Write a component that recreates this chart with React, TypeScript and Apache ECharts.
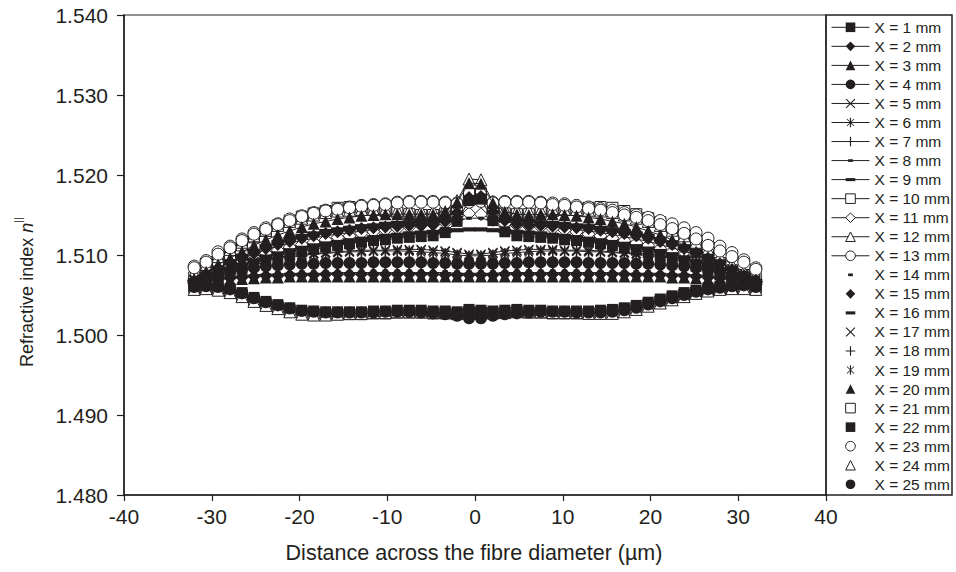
import React, { useEffect, useRef } from "react";
import * as echarts from "echarts";

// Position across the fibre (µm), shared by every profile
const distanceUm = [
  -32.0, -30.64, -29.28, -27.91, -26.55, -25.19, -23.83, -22.47, -21.11, -19.74, -18.38, -17.02,
  -15.66, -14.3, -12.94, -11.57, -10.21, -8.85, -7.49, -6.13, -4.77, -3.4, -2.04, -0.68,
  0.68, 2.04, 3.4, 4.77, 6.13, 7.49, 8.85, 10.21, 11.57, 12.94, 14.3, 15.66,
  17.02, 18.38, 19.74, 21.11, 22.47, 23.83, 25.19, 26.55, 27.91, 29.28, 30.64, 32.0,
];

// Refractive index profiles n|| at each drawing position X
const nX1 = [
  1.5062, 1.5067, 1.5072, 1.5077, 1.5082, 1.5087, 1.5092, 1.5096, 1.51, 1.5104, 1.5107, 1.511,
  1.5112, 1.5114, 1.5116, 1.5118, 1.5119, 1.5121, 1.5122, 1.5123, 1.5124, 1.5128, 1.5142, 1.5168,
  1.517, 1.5143, 1.5129, 1.5124, 1.5123, 1.5122, 1.5121, 1.5119, 1.5118, 1.5116, 1.5114, 1.5112,
  1.5109, 1.5106, 1.5103, 1.5099, 1.5095, 1.5091, 1.5086, 1.5081, 1.5076, 1.5071, 1.5066, 1.5062,
];
const nX2 = [
  1.5064, 1.5067, 1.5069, 1.5071, 1.5072, 1.5073, 1.5074, 1.5074, 1.5075, 1.5075, 1.5075, 1.5076,
  1.5076, 1.5076, 1.5076, 1.5076, 1.5076, 1.5076, 1.5076, 1.5076, 1.5076, 1.5075, 1.5075, 1.5075,
  1.5075, 1.5075, 1.5076, 1.5076, 1.5076, 1.5076, 1.5076, 1.5076, 1.5076, 1.5076, 1.5076, 1.5076,
  1.5076, 1.5075, 1.5075, 1.5075, 1.5074, 1.5074, 1.5073, 1.5072, 1.5071, 1.5069, 1.5067, 1.5064,
];
const nX3 = [
  1.507, 1.5079, 1.5088, 1.5096, 1.5104, 1.5112, 1.5119, 1.5125, 1.513, 1.5135, 1.5139, 1.5142,
  1.5145, 1.5147, 1.5149, 1.515, 1.5151, 1.5151, 1.5151, 1.5151, 1.5151, 1.5155, 1.5166, 1.519,
  1.5189, 1.5165, 1.5154, 1.5151, 1.515, 1.5151, 1.5151, 1.515, 1.5149, 1.5147, 1.5145, 1.5142,
  1.5139, 1.5135, 1.513, 1.5125, 1.5119, 1.5112, 1.5104, 1.5096, 1.5088, 1.5079, 1.5071, 1.5069,
];
const nX4 = [
  1.5066, 1.5071, 1.5075, 1.5079, 1.5082, 1.5084, 1.5086, 1.5087, 1.5088, 1.5089, 1.5089, 1.509,
  1.509, 1.509, 1.509, 1.5091, 1.5091, 1.5091, 1.5091, 1.5091, 1.509, 1.509, 1.5089, 1.5089,
  1.5089, 1.5089, 1.509, 1.509, 1.5091, 1.5091, 1.5091, 1.5091, 1.5091, 1.509, 1.509, 1.509,
  1.509, 1.5089, 1.5089, 1.5088, 1.5087, 1.5086, 1.5084, 1.5082, 1.5079, 1.5075, 1.5071, 1.5066,
];
const nX5 = [
  1.507, 1.5076, 1.5081, 1.5085, 1.5089, 1.5092, 1.5095, 1.5097, 1.5099, 1.5101, 1.5102, 1.5103,
  1.5104, 1.5105, 1.5106, 1.5106, 1.5106, 1.5107, 1.5107, 1.5107, 1.5106, 1.5105, 1.5103, 1.5101,
  1.5101, 1.5103, 1.5105, 1.5106, 1.5107, 1.5107, 1.5107, 1.5106, 1.5106, 1.5106, 1.5105, 1.5104,
  1.5103, 1.5102, 1.5101, 1.5099, 1.5097, 1.5095, 1.5092, 1.5089, 1.5085, 1.5081, 1.5076, 1.507,
];
const nX6 = [
  1.5069, 1.5075, 1.508, 1.5084, 1.5088, 1.5091, 1.5094, 1.5096, 1.5098, 1.5099, 1.5101, 1.5102,
  1.5103, 1.5104, 1.5104, 1.5105, 1.5105, 1.5105, 1.5105, 1.5104, 1.5103, 1.5102, 1.51, 1.5099,
  1.5099, 1.51, 1.5102, 1.5103, 1.5104, 1.5105, 1.5105, 1.5105, 1.5105, 1.5104, 1.5104, 1.5103,
  1.5102, 1.5101, 1.5099, 1.5098, 1.5096, 1.5094, 1.5091, 1.5088, 1.5084, 1.508, 1.5075, 1.5069,
];
const nX7 = [
  1.5066, 1.5069, 1.5071, 1.5073, 1.5074, 1.5075, 1.5076, 1.5076, 1.5077, 1.5077, 1.5077, 1.5077,
  1.5078, 1.5078, 1.5078, 1.5078, 1.5078, 1.5078, 1.5078, 1.5078, 1.5078, 1.5078, 1.5077, 1.5077,
  1.5077, 1.5077, 1.5078, 1.5078, 1.5078, 1.5078, 1.5078, 1.5078, 1.5078, 1.5078, 1.5078, 1.5078,
  1.5077, 1.5077, 1.5077, 1.5077, 1.5076, 1.5076, 1.5075, 1.5074, 1.5073, 1.5071, 1.5069, 1.5066,
];
const nX8 = [
  1.5072, 1.5078, 1.5085, 1.5091, 1.5097, 1.5102, 1.5107, 1.5111, 1.5115, 1.5118, 1.5121, 1.5124,
  1.5126, 1.5128, 1.513, 1.5132, 1.5134, 1.5136, 1.5137, 1.5139, 1.514, 1.5141, 1.5143, 1.5146,
  1.5146, 1.5143, 1.5141, 1.514, 1.5139, 1.5137, 1.5136, 1.5134, 1.5132, 1.513, 1.5128, 1.5126,
  1.5123, 1.512, 1.5117, 1.5113, 1.5109, 1.5105, 1.51, 1.5095, 1.5089, 1.5083, 1.5077, 1.5071,
];
const nX9 = [
  1.5066, 1.5071, 1.5077, 1.5083, 1.5088, 1.5093, 1.5098, 1.5102, 1.5106, 1.5109, 1.5112, 1.5114,
  1.5116, 1.5118, 1.512, 1.5122, 1.5124, 1.5125, 1.5127, 1.5128, 1.5129, 1.513, 1.5131, 1.5132,
  1.5132, 1.5131, 1.513, 1.5129, 1.5128, 1.5127, 1.5125, 1.5124, 1.5122, 1.512, 1.5118, 1.5116,
  1.5114, 1.5111, 1.5108, 1.5105, 1.5101, 1.5097, 1.5092, 1.5087, 1.5082, 1.5076, 1.507, 1.5065,
];
const nX10 = [
  1.5072, 1.5082, 1.5092, 1.5101, 1.5112, 1.5122, 1.513, 1.5137, 1.5143, 1.5148, 1.5152, 1.5155,
  1.5159, 1.516, 1.5159, 1.5157, 1.5155, 1.5153, 1.5151, 1.515, 1.515, 1.5152, 1.516, 1.5176,
  1.5177, 1.5161, 1.5152, 1.5151, 1.5151, 1.5153, 1.5155, 1.5157, 1.5158, 1.5159, 1.516, 1.5159,
  1.5155, 1.5151, 1.5146, 1.5141, 1.5134, 1.5126, 1.5115, 1.51, 1.509, 1.5081, 1.5075, 1.5071,
];
const nX11 = [
  1.5068, 1.5074, 1.508, 1.5086, 1.5092, 1.5097, 1.5102, 1.5106, 1.511, 1.5113, 1.5116, 1.5119,
  1.5122, 1.5124, 1.5127, 1.5129, 1.5131, 1.5133, 1.5135, 1.5137, 1.5138, 1.514, 1.5145, 1.5152,
  1.5151, 1.5144, 1.5139, 1.5137, 1.5136, 1.5135, 1.5133, 1.5131, 1.5129, 1.5126, 1.5124, 1.5121,
  1.5118, 1.5115, 1.5112, 1.5108, 1.5104, 1.51, 1.5095, 1.509, 1.5085, 1.5079, 1.5073, 1.5067,
];
const nX12 = [
  1.5078, 1.5088, 1.5098, 1.5107, 1.5116, 1.5124, 1.5131, 1.5137, 1.5142, 1.5146, 1.515, 1.5153,
  1.5155, 1.5156, 1.5157, 1.5157, 1.5157, 1.5156, 1.5156, 1.5155, 1.5155, 1.5158, 1.5168, 1.5195,
  1.5194, 1.5167, 1.5157, 1.5155, 1.5155, 1.5156, 1.5157, 1.5157, 1.5157, 1.5156, 1.5155, 1.5153,
  1.515, 1.5146, 1.5142, 1.5137, 1.5131, 1.5124, 1.5116, 1.5107, 1.5098, 1.5088, 1.5079, 1.507,
];
const nX13 = [
  1.5086, 1.5093, 1.5104, 1.5111, 1.512, 1.5128, 1.5134, 1.5139, 1.5145, 1.5149, 1.5153, 1.5156,
  1.5158, 1.516, 1.5162, 1.5163, 1.5164, 1.5166, 1.5167, 1.5167, 1.5167, 1.5166, 1.5165, 1.5167,
  1.5168, 1.5166, 1.5167, 1.5167, 1.5167, 1.5166, 1.5165, 1.5164, 1.5162, 1.516, 1.5158, 1.5156,
  1.5153, 1.515, 1.5147, 1.5143, 1.5139, 1.5134, 1.5128, 1.5121, 1.5111, 1.5103, 1.5094, 1.5084,
];
const nX14 = [
  1.5067, 1.507, 1.5072, 1.5074, 1.5075, 1.5076, 1.5077, 1.5078, 1.5078, 1.5079, 1.5079, 1.5079,
  1.5079, 1.5079, 1.508, 1.508, 1.508, 1.508, 1.508, 1.508, 1.5079, 1.5079, 1.5079, 1.5079,
  1.5079, 1.5079, 1.5079, 1.508, 1.508, 1.508, 1.508, 1.508, 1.508, 1.508, 1.5079, 1.5079,
  1.5079, 1.5079, 1.5079, 1.5078, 1.5078, 1.5077, 1.5076, 1.5075, 1.5074, 1.5072, 1.507, 1.5067,
];
const nX15 = [
  1.5066, 1.5074, 1.5082, 1.5089, 1.5096, 1.5102, 1.5108, 1.5113, 1.5117, 1.5121, 1.5124, 1.5127,
  1.5129, 1.5131, 1.5133, 1.5134, 1.5135, 1.5136, 1.5137, 1.5137, 1.5138, 1.5142, 1.5153, 1.5172,
  1.5173, 1.5154, 1.5143, 1.5138, 1.5137, 1.5137, 1.5136, 1.5135, 1.5134, 1.5133, 1.5131, 1.5129,
  1.5127, 1.5124, 1.5121, 1.5117, 1.5113, 1.5108, 1.5102, 1.5096, 1.5089, 1.5082, 1.5074, 1.5066,
];
const nX16 = [
  1.5068, 1.5076, 1.5084, 1.5092, 1.5099, 1.5105, 1.5111, 1.5116, 1.512, 1.5124, 1.5127, 1.513,
  1.5132, 1.5134, 1.5136, 1.5137, 1.5139, 1.514, 1.5141, 1.5142, 1.5143, 1.5145, 1.5152, 1.5165,
  1.5166, 1.5153, 1.5145, 1.5143, 1.5142, 1.5141, 1.514, 1.5139, 1.5137, 1.5136, 1.5134, 1.5132,
  1.513, 1.5127, 1.5124, 1.512, 1.5116, 1.5111, 1.5105, 1.5099, 1.5092, 1.5084, 1.5076, 1.5068,
];
const nX17 = [
  1.5068, 1.5074, 1.5079, 1.5084, 1.5088, 1.5091, 1.5094, 1.5096, 1.5098, 1.51, 1.5102, 1.5103,
  1.5104, 1.5104, 1.5105, 1.5105, 1.5106, 1.5106, 1.5106, 1.5106, 1.5105, 1.5104, 1.5102, 1.51,
  1.51, 1.5102, 1.5104, 1.5105, 1.5106, 1.5106, 1.5106, 1.5105, 1.5105, 1.5105, 1.5104, 1.5104,
  1.5103, 1.5102, 1.51, 1.5098, 1.5096, 1.5094, 1.5091, 1.5088, 1.5084, 1.5079, 1.5074, 1.5068,
];
const nX18 = [
  1.5065, 1.5068, 1.507, 1.5072, 1.5073, 1.5074, 1.5075, 1.5075, 1.5076, 1.5076, 1.5076, 1.5076,
  1.5077, 1.5077, 1.5077, 1.5077, 1.5077, 1.5077, 1.5077, 1.5077, 1.5077, 1.5077, 1.5076, 1.5076,
  1.5076, 1.5076, 1.5077, 1.5077, 1.5077, 1.5077, 1.5077, 1.5077, 1.5077, 1.5077, 1.5077, 1.5077,
  1.5076, 1.5076, 1.5076, 1.5076, 1.5075, 1.5075, 1.5074, 1.5073, 1.5072, 1.507, 1.5068, 1.5065,
];
const nX19 = [
  1.5067, 1.5073, 1.5078, 1.5083, 1.5087, 1.509, 1.5093, 1.5095, 1.5097, 1.5099, 1.51, 1.5101,
  1.5102, 1.5103, 1.5103, 1.5104, 1.5104, 1.5104, 1.5104, 1.5103, 1.5102, 1.5101, 1.5099, 1.5098,
  1.5098, 1.5099, 1.5101, 1.5102, 1.5103, 1.5104, 1.5104, 1.5104, 1.5104, 1.5103, 1.5103, 1.5102,
  1.5101, 1.51, 1.5099, 1.5097, 1.5095, 1.5093, 1.509, 1.5087, 1.5083, 1.5078, 1.5073, 1.5067,
];
const nX20 = [
  1.5062, 1.5065, 1.5067, 1.5069, 1.507, 1.5071, 1.5072, 1.5072, 1.5073, 1.5073, 1.5073, 1.5073,
  1.5073, 1.5073, 1.5073, 1.5073, 1.5073, 1.5073, 1.5073, 1.5073, 1.5073, 1.5073, 1.5073, 1.5073,
  1.5073, 1.5073, 1.5073, 1.5073, 1.5073, 1.5073, 1.5073, 1.5073, 1.5073, 1.5073, 1.5073, 1.5073,
  1.5073, 1.5073, 1.5073, 1.5073, 1.5072, 1.5072, 1.5071, 1.507, 1.5069, 1.5067, 1.5065, 1.5062,
];
const nX21 = [
  1.5059, 1.5059, 1.5058, 1.5055, 1.505, 1.5044, 1.5039, 1.5035, 1.5031, 1.5028, 1.5027, 1.5026,
  1.5026, 1.5026, 1.5026, 1.5027, 1.5027, 1.5028, 1.5028, 1.5028, 1.5027, 1.5027, 1.5026, 1.5029,
  1.5028, 1.5027, 1.5028, 1.5029, 1.5028, 1.5028, 1.5027, 1.5027, 1.5027, 1.5027, 1.5028, 1.5029,
  1.5031, 1.5034, 1.5038, 1.5042, 1.5046, 1.505, 1.5053, 1.5056, 1.5058, 1.5059, 1.506, 1.5059,
];
const nX22 = [
  1.5062, 1.5062, 1.5061, 1.5058, 1.5053, 1.5047, 1.5042, 1.5038, 1.5034, 1.5031, 1.503, 1.5029,
  1.5029, 1.5029, 1.5029, 1.503, 1.503, 1.5031, 1.5031, 1.5031, 1.503, 1.503, 1.5029, 1.5032,
  1.5031, 1.503, 1.5031, 1.5032, 1.5031, 1.5031, 1.503, 1.503, 1.503, 1.503, 1.5031, 1.5032,
  1.5034, 1.5037, 1.5041, 1.5045, 1.5049, 1.5053, 1.5056, 1.5059, 1.5061, 1.5062, 1.5063, 1.5062,
];
const nX23 = [
  1.5084, 1.5091, 1.5101, 1.5109, 1.5118, 1.5126, 1.5132, 1.5138, 1.5143, 1.5148, 1.5152, 1.5155,
  1.5157, 1.5159, 1.5161, 1.5162, 1.5163, 1.5165, 1.5166, 1.5166, 1.5166, 1.5165, 1.5164, 1.5166,
  1.5167, 1.5165, 1.5166, 1.5166, 1.5166, 1.5165, 1.5163, 1.5162, 1.516, 1.5158, 1.5156, 1.5153,
  1.515, 1.5147, 1.5143, 1.5138, 1.5133, 1.5127, 1.512, 1.5112, 1.5105, 1.5098, 1.5091, 1.5082,
];
const nX24 = [
  1.5057, 1.5058, 1.5056, 1.5053, 1.5048, 1.5042, 1.5037, 1.5033, 1.5029, 1.5026, 1.5025, 1.5025,
  1.5026, 1.5027, 1.5027, 1.5028, 1.5028, 1.5029, 1.5029, 1.5029, 1.5028, 1.5028, 1.5027, 1.5028,
  1.5027, 1.5028, 1.5028, 1.5029, 1.5029, 1.5029, 1.5028, 1.5028, 1.5028, 1.5027, 1.5027, 1.5027,
  1.5029, 1.5032, 1.5036, 1.504, 1.5044, 1.5048, 1.5052, 1.5055, 1.5057, 1.5058, 1.5058, 1.5057,
];
const nX25 = [
  1.506, 1.5061, 1.506, 1.5057, 1.5052, 1.5046, 1.5041, 1.5037, 1.5033, 1.503, 1.5029, 1.5028,
  1.5028, 1.5028, 1.5028, 1.5028, 1.5029, 1.5029, 1.5029, 1.5028, 1.5027, 1.5026, 1.5024, 1.5021,
  1.5021, 1.5024, 1.5026, 1.5027, 1.5028, 1.5029, 1.5029, 1.5029, 1.5028, 1.5028, 1.5028, 1.5029,
  1.5031, 1.5034, 1.5038, 1.5042, 1.5046, 1.505, 1.5054, 1.5057, 1.5059, 1.5061, 1.5062, 1.506,
];

const seriesNames = [
  "X = 1 mm", "X = 2 mm", "X = 3 mm", "X = 4 mm", "X = 5 mm", "X = 6 mm", "X = 7 mm",
  "X = 8 mm", "X = 9 mm", "X = 10 mm", "X = 11 mm", "X = 12 mm", "X = 13 mm", "X = 14 mm",
  "X = 15 mm", "X = 16 mm", "X = 17 mm", "X = 18 mm", "X = 19 mm", "X = 20 mm", "X = 21 mm",
  "X = 22 mm", "X = 23 mm", "X = 24 mm", "X = 25 mm",
];
const seriesValues = [
  nX1, nX2, nX3, nX4, nX5, nX6, nX7, nX8, nX9, nX10, nX11, nX12, nX13,
  nX14, nX15, nX16, nX17, nX18, nX19, nX20, nX21, nX22, nX23, nX24, nX25,
];

const FONT = "'Liberation Sans', Arial, Helvetica, sans-serif";
const INK = "#231f20";

// Marker glyphs drawn as filled outlines; the leading moves pin a 10x10 box
const SYM_CROSS = "path://M0,0M10,10M0,0.8L0.8,0L10,9.2L9.2,10Z M10,0.8L0.8,10L0,9.2L9.2,0Z";
const SYM_STAR =
  "path://M0,0M10,10M1,1.6L1.6,1L9,8.4L8.4,9Z M9,1.6L1.6,9L1,8.4L8.4,1Z M4.4,0H5.6V10H4.4Z";
const SYM_PLUS = "path://M4.4,0H5.6V4.4H10V5.6H5.6V10H4.4V5.6H0V4.4H4.4Z";
const SYM_SMALL_DASH = "path://M0,0M10,10M2.5,3.6H7.5V6.4H2.5Z";
const SYM_DASH = "path://M0,0M10,10M0,3.4H10V6.6H0Z";

type MarkerStyle = { symbol: string; size: number; open: boolean; line: boolean };

const markerStyles: MarkerStyle[] = [
  { symbol: "rect", size: 11, open: false, line: true },
  { symbol: "diamond", size: 13, open: false, line: true },
  { symbol: "triangle", size: 12, open: false, line: true },
  { symbol: "circle", size: 12, open: false, line: true },
  { symbol: SYM_CROSS, size: 10, open: false, line: true },
  { symbol: SYM_STAR, size: 11, open: false, line: true },
  { symbol: SYM_PLUS, size: 11, open: false, line: true },
  { symbol: SYM_SMALL_DASH, size: 11, open: false, line: true },
  { symbol: SYM_DASH, size: 13, open: false, line: true },
  { symbol: "rect", size: 11, open: true, line: true },
  { symbol: "diamond", size: 13, open: true, line: true },
  { symbol: "triangle", size: 12, open: true, line: true },
  { symbol: "circle", size: 12, open: true, line: true },
  { symbol: SYM_SMALL_DASH, size: 11, open: false, line: false },
  { symbol: "diamond", size: 13, open: false, line: false },
  { symbol: SYM_DASH, size: 13, open: false, line: false },
  { symbol: SYM_CROSS, size: 10, open: false, line: false },
  { symbol: SYM_PLUS, size: 11, open: false, line: false },
  { symbol: SYM_STAR, size: 11, open: false, line: false },
  { symbol: "triangle", size: 12, open: false, line: false },
  { symbol: "rect", size: 11, open: true, line: false },
  { symbol: "rect", size: 11, open: false, line: false },
  { symbol: "circle", size: 12, open: true, line: false },
  { symbol: "triangle", size: 12, open: true, line: false },
  { symbol: "circle", size: 12, open: false, line: false },
];

function itemStyleOf(m: MarkerStyle) {
  return m.open
    ? { color: "#ffffff", borderColor: INK, borderWidth: 1 }
    : { color: INK, borderColor: INK, borderWidth: 0 };
}

function buildOption(): echarts.EChartsCoreOption {
  const series = seriesValues.map((vals, k) => {
    const m = markerStyles[k];
    return {
      type: "line",
      name: seriesNames[k],
      data: distanceUm.map((d, i) => [d, vals[i]]),
      symbol: m.symbol,
      symbolSize: m.size,
      showSymbol: true,
      showAllSymbol: true,
      // hollow markers sit beneath the solid ones
      z: m.open ? 1 : 2,
      lineStyle: m.line ? { color: INK, width: 1 } : { color: INK, width: 0, opacity: 0 },
      itemStyle: itemStyleOf(m),
      emphasis: { disabled: true },
      silent: true,
    };
  });

  const legendData = seriesNames.map((name, k) => {
    const m = markerStyles[k];
    return {
      name,
      itemStyle: itemStyleOf(m),
      lineStyle: m.line
        ? { color: INK, width: 1, opacity: 1 }
        : { color: INK, width: 0, opacity: 0 },
    };
  });

  return {
    animation: false,
    backgroundColor: "#ffffff",
    textStyle: { fontFamily: FONT, color: INK },
    grid: {
      left: 124,
      right: 130,
      top: 15,
      bottom: 77,
      show: true,
      borderColor: INK,
      borderWidth: 1.2,
      containLabel: false,
      outerBoundsMode: "none",
    },
    xAxis: {
      type: "value",
      min: -40,
      max: 40,
      interval: 10,
      splitLine: { show: false },
      axisLine: { onZero: false, lineStyle: { color: INK, width: 1.5 } },
      axisTick: { inside: false, length: 6, lineStyle: { color: INK, width: 1.2 } },
      axisLabel: { color: INK, fontSize: 21, fontFamily: FONT, margin: 11 },
    },
    yAxis: {
      type: "value",
      min: 1.48,
      max: 1.54,
      interval: 0.01,
      splitLine: { show: false },
      axisLine: { onZero: false, lineStyle: { color: INK, width: 1.5 } },
      axisTick: { inside: false, length: 7, lineStyle: { color: INK, width: 1.2 } },
      axisLabel: {
        color: INK,
        fontSize: 21,
        fontFamily: FONT,
        margin: 16,
        formatter: (v: number) => v.toFixed(3),
      },
    },
    legend: {
      orient: "vertical",
      left: 831,
      top: 19.3,
      padding: 0,
      itemWidth: 38,
      itemHeight: 12,
      itemGap: 3.04,
      selectedMode: false,
      textStyle: { fontSize: 15.5, fontFamily: FONT, color: INK },
      data: legendData,
    },
    graphic: [
      {
        type: "rect",
        shape: { x: 826, y: 15, width: 126, height: 480 },
        style: { fill: "none", stroke: INK, lineWidth: 1.5 },
        silent: true,
      },
      {
        type: "text",
        x: 24,
        y: 292,
        rotation: Math.PI / 2,
        silent: true,
        style: {
          text: "{a|Refractive index }{i|n}{s|||}",
          align: "center",
          verticalAlign: "middle",
          rich: {
            a: { fontSize: 18, fontFamily: FONT, fill: INK, lineHeight: 24, verticalAlign: "bottom" },
            i: {
              fontSize: 18,
              fontFamily: FONT,
              fontStyle: "italic",
              fill: INK,
              lineHeight: 24,
              verticalAlign: "bottom",
            },
            s: { fontSize: 11, fontFamily: FONT, fill: INK, lineHeight: 24, verticalAlign: "top" },
          },
        },
      },
      {
        type: "text",
        x: 474,
        y: 553,
        silent: true,
        style: {
          text: "Distance across the fibre diameter (µm)",
          fontSize: 21.5,
          fontFamily: FONT,
          fill: INK,
          align: "center",
          verticalAlign: "middle",
        },
      },
    ],
    series,
  };
}

export default function App() {
  const ref = useRef<HTMLDivElement>(null);
  useEffect(() => {
    if (!ref.current) return;
    const chart = echarts.init(ref.current, null, { renderer: "svg" });
    chart.setOption(buildOption());
    return () => chart.dispose();
  }, []);
  return (
    <div
      ref={ref}
      style={{ position: "fixed", left: 0, top: 0, width: 956, height: 572, background: "#fff" }}
    />
  );
}
